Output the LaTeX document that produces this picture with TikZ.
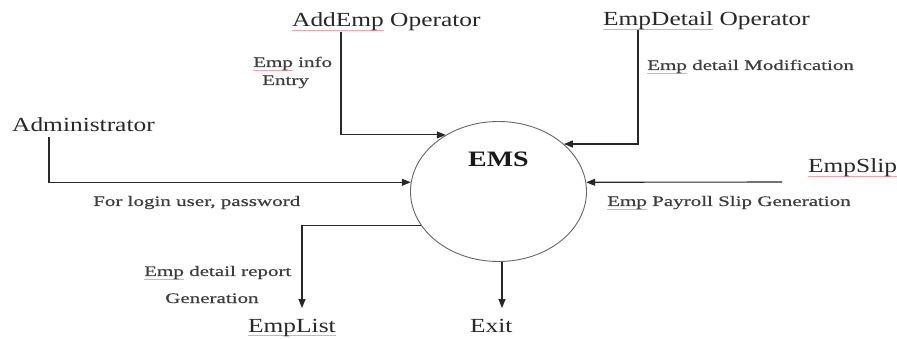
\documentclass[tikz,border=0pt]{standalone}
\usepackage{fontspec}
\setmainfont{Liberation Serif}[FakeStretch=1.27]
\newfontfamily\labfont{Liberation Serif}[FakeStretch=1.45,FakeBold=0.6]
\usetikzlibrary{arrows.meta,shapes.geometric}
\definecolor{spell}{RGB}{240,165,172}
\definecolor{ink}{RGB}{40,40,40}
\newcommand\squig[1]{\setbox0\hbox{#1}\rlap{\color{spell}\rule[-3.5pt]{\wd0}{0.55pt}}\box0\relax}
\tikzset{
  extname/.style={font=\fontsize{20}{22}\selectfont, text=ink, inner sep=0pt, anchor=base west},
  flowlabel/.style={font=\labfont\fontsize{14.5}{16}\selectfont, text=ink!90, inner sep=0pt, anchor=base west},
  flow/.style={draw=ink, line width=1.1pt, -{Triangle[length=9pt,width=7pt]}},
  process/.style={draw=black!60, line width=0.9pt, shape=ellipse, minimum width=176pt, minimum height=140pt, inner sep=0pt}
}
\begin{document}
\begin{tikzpicture}[x=1pt,y=-1pt]
\useasboundingbox[fill=white] (0,0) rectangle (897,339);
% process
\node[process] (ems) at (498.5,191.5) {};
\node[font=\bfseries\fontsize{22}{24}\selectfont, text=black!90, inner sep=0pt, anchor=base west] (emstext) at (468,167) {EMS};
% external entities
\node[extname] (addemp) at (292,27) {\squig{AddEmp} Operator};
\node[extname] (empdetail) at (603,26) {\squig{EmpDetail} Operator};
\node[extname] (admin) at (12,132) {Administrator};
\node[extname] (empslip) at (808,173) {\squig{EmpSlip}};
\node[extname] (emplist) at (248,332) {\squig{EmpList}};
\node[extname] (exit) at (470,332) {Exit};
% flow labels
\node[flowlabel] (lbinfo) at (253,67) {\squig{Emp} info};
\node[flowlabel] (lbentry) at (262,85) {Entry};
\node[flowlabel] (lbmod) at (647,70) {\squig{Emp} detail Modification};
\node[flowlabel] (lblogin) at (93,206) {For login user, password};
\node[flowlabel] (lbslip) at (607,206) {\squig{Emp} Payroll Slip Generation};
\node[flowlabel] (lbreport) at (144,276) {\squig{Emp} detail report};
\node[flowlabel] (lbgen) at (165,303) {Generation};
% connector end points
\coordinate (addstart) at (341,32);
\coordinate (detstart) at (638,30);
\coordinate (admstart) at (49,137);
\coordinate (slipstart) at (782,182);
\coordinate (listend) at (302,308);
\coordinate (exitend) at (502,308);
% connectors
\draw[flow] (addstart) |- (ems.133.4);
\draw[flow] (detstart) |- (ems.36.9);
\draw[flow] (admstart) |- (ems.174);
\draw[flow] (slipstart) -- (ems.6);
\draw[flow] (ems.204.3) -| (listend);
\draw[flow] (ems.south -| exitend) -- (exitend);
\end{tikzpicture}
\end{document}
